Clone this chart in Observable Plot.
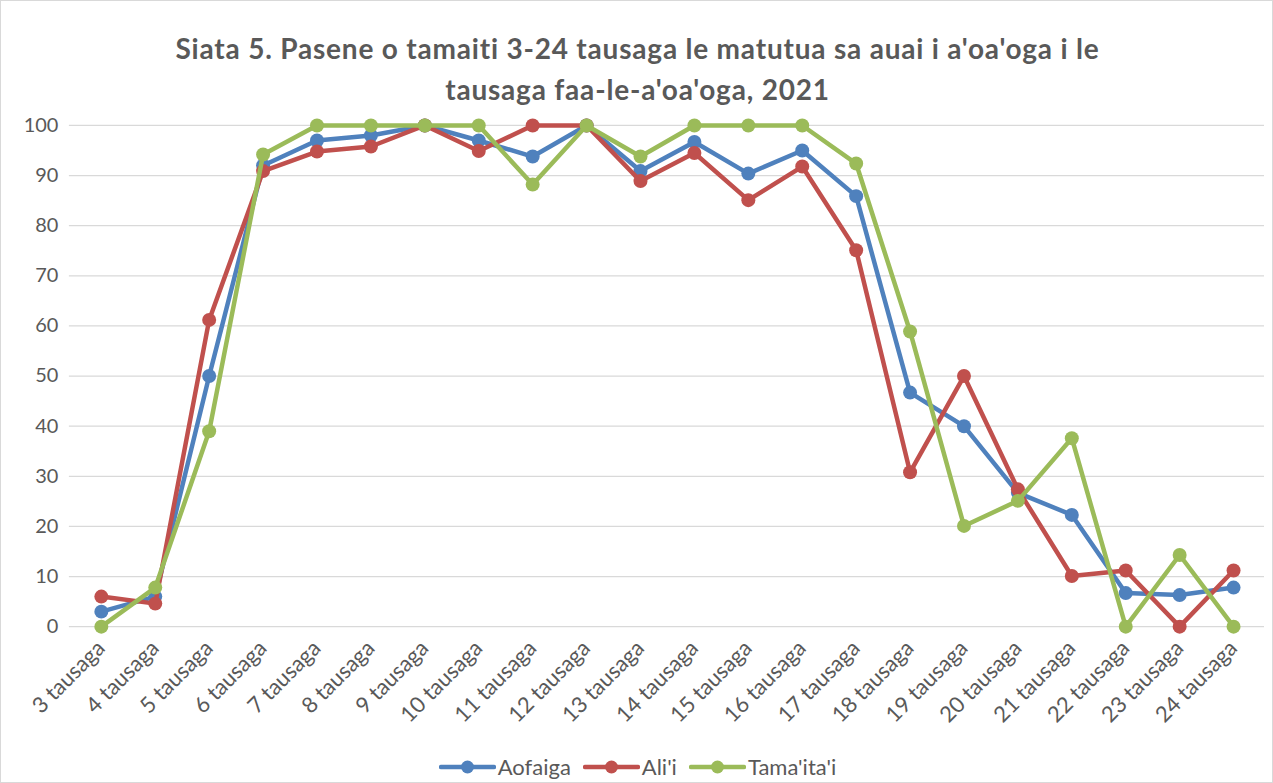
<!DOCTYPE html>
<html>
<head>
<meta charset="utf-8">
<script src="https://cdn.jsdelivr.net/npm/d3@7"></script>
<script src="https://cdn.jsdelivr.net/npm/@observablehq/plot@0.6"></script>
<style>
  html, body { margin: 0; padding: 0; background: #fff; }
  #frame { position: relative; width: 1273px; height: 783px; box-sizing: border-box; border: 1px solid #d9d9d9; background: #fff; font-family: Lato, "Open Sans", sans-serif; overflow: hidden; }
  #title { position: absolute; left: 0; top: 27px; width: 1273px; text-align: center; font-weight: bold; font-size: 28px; letter-spacing: 0.8px; line-height: 41px; color: #595959; }
  #chart { position: absolute; left: 0; top: 100px; }
  #legend { position: absolute; left: 0; top: 752px; width: 1273px; display: flex; justify-content: center; gap: 12px; font-size: 22px; color: #595959; }
  .item { display: flex; align-items: center; gap: 2px; }
</style>
</head>
<body>
<div id="frame">
  <div id="title">Siata 5. Pasene o tamaiti 3-24 tausaga le matutua sa auai i a'oa'oga i le<br>tausaga faa-le-a'oa'oga, 2021</div>
  <div id="chart"></div>
  <div id="legend"></div>
</div>
<script>
const categories = ["3 tausaga","4 tausaga","5 tausaga","6 tausaga","7 tausaga","8 tausaga","9 tausaga","10 tausaga","11 tausaga","12 tausaga","13 tausaga","14 tausaga","15 tausaga","16 tausaga","17 tausaga","18 tausaga","19 tausaga","20 tausaga","21 tausaga","22 tausaga","23 tausaga","24 tausaga"];
const aofaiga = [3.0, 6.0, 50.0, 92.0, 97.0, 98.0, 100, 97.0, 93.8, 100, 90.9, 96.7, 90.4, 95.0, 85.9, 46.7, 40.0, 26.7, 22.3, 6.7, 6.3, 7.8];
const alii = [6.0, 4.6, 61.2, 90.9, 94.8, 95.8, 100, 94.9, 100, 100, 88.9, 94.5, 85.1, 91.8, 75.1, 30.8, 50.0, 27.4, 10.1, 11.2, 0, 11.2];
const tamaitai = [0, 7.8, 39.0, 94.2, 100, 100, 100, 100, 88.2, 100, 93.8, 100, 100, 100, 92.4, 58.9, 20.1, 25.1, 37.6, 0, 14.3, 0];
const seriesNames = ["Aofaiga", "Ali'i", "Tama'ita'i"];
const seriesColors = ["#4f81bd", "#c0504d", "#9bbb59"];
const yTicks = [0, 10, 20, 30, 40, 50, 60, 70, 80, 90, 100];

const seriesValues = [aofaiga, alii, tamaitai];
const rows = seriesValues.flatMap((vals, s) => vals.map((v, i) => ({series: seriesNames[s], age: categories[i], value: v})));

const marks = [
  Plot.ruleY(yTicks, {stroke: "#d9d9d9", strokeWidth: 1.3}),
  Plot.axisY({ticks: yTicks, tickSize: 0, tickPadding: 11, fontSize: 20, fill: "#595959", label: null}),
  Plot.axisX({tickSize: 0, tickPadding: 18, tickRotate: -45, fontSize: 22, fill: "#595959", label: null})
];
seriesNames.forEach((name, s) => {
  const d = rows.filter(r => r.series === name);
  marks.push(Plot.line(d, {x: "age", y: "value", stroke: seriesColors[s], strokeWidth: 4.5, strokeLinejoin: "round"}));
  marks.push(Plot.dot(d, {x: "age", y: "value", r: 7, fill: seriesColors[s], stroke: "none"}));
});

const chart = Plot.plot({
  width: 1273,
  height: 645,
  marginTop: 24,
  marginBottom: 119,
  marginLeft: 68,
  marginRight: 8,
  x: {type: "point", domain: categories, padding: 0.5},
  y: {domain: [0, 100]},
  style: {fontFamily: "Lato, 'Open Sans', sans-serif", background: "transparent"},
  marks
});
document.getElementById("chart").appendChild(chart);

const legend = document.getElementById("legend");
seriesNames.forEach((name, s) => {
  const item = document.createElement("div");
  item.className = "item";
  item.innerHTML = `<svg width="57" height="14"><line x1="2" x2="55" y1="7" y2="7" stroke="${seriesColors[s]}" stroke-width="4.5" stroke-linecap="round"/><circle cx="28.5" cy="7" r="6.5" fill="${seriesColors[s]}"/></svg><span>${name}</span>`;
  legend.appendChild(item);
});
</script>
</body>
</html>
